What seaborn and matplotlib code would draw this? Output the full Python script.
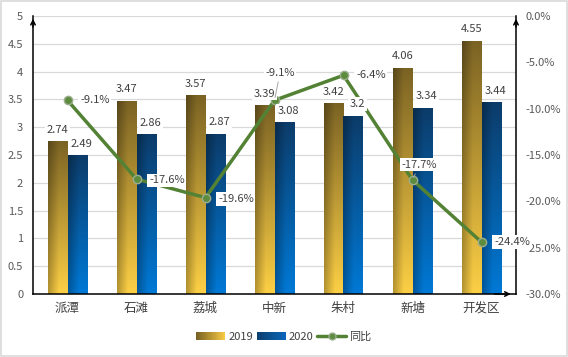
import numpy as np
import pandas as pd
import matplotlib
matplotlib.use("Agg")
import matplotlib.pyplot as plt
import seaborn as sns
from matplotlib.patches import Rectangle, Patch
from matplotlib.lines import Line2D
from matplotlib.legend_handler import HandlerBase
from matplotlib.colors import to_rgb

# data
areas = ["派潭", "石滩", "荔城", "中新", "朱村", "新塘", "开发区"]
v2019 = [2.74, 3.47, 3.57, 3.39, 3.42, 4.06, 4.55]
v2020 = [2.49, 2.86, 2.87, 3.08, 3.2, 3.34, 3.44]
yoy = [-9.1, -17.6, -19.6, -9.1, -6.4, -17.7, -24.4]
years = ["2019", "2020"]

df = pd.DataFrame({
    "区域": areas * 2,
    "值": v2019 + v2020,
    "年份": [years[0]] * len(areas) + [years[1]] * len(areas),
})

sns.set_theme(style="white")
plt.rcParams["font.family"] = ["Noto Sans CJK SC", "DejaVu Sans"]

GREEN = "#548235"
TXT = "#404040"
TICK = "#595959"
# gradient colours (top, bottom)
GOLD = (np.array(to_rgb("#7B6324")), np.array(to_rgb("#FCCF45")))
BLUE = (np.array(to_rgb("#0C3C6A")), np.array(to_rgb("#0079D6")))


def grad_img(top, bottom, nx=24, ny=80):
    t = np.linspace(0, 1, ny)[:, None, None]
    col = (1 - t) * bottom + t * top
    s = np.linspace(0, 1, nx)[None, :, None]
    shade = 0.72 + 0.28 * np.clip(s / 0.55, 0, 1)
    return np.clip(col * shade, 0, 1)


class GradHandler(HandlerBase):
    def __init__(self, left, right, n=24):
        super().__init__()
        self.left, self.right, self.n = np.array(to_rgb(left)), np.array(to_rgb(right)), n

    def create_artists(self, legend, orig_handle, xdescent, ydescent,
                       width, height, fontsize, trans):
        arts = []
        for i in range(self.n):
            c = self.left + (self.right - self.left) * i / (self.n - 1)
            arts.append(Rectangle((-xdescent + width * i / self.n, -ydescent),
                                  width / self.n * 1.08, height,
                                  facecolor=c, edgecolor="none", transform=trans))
        return arts


fig = plt.figure(figsize=(5.68, 3.57), dpi=100)
ax = fig.add_axes([33 / 568, 1 - 294 / 357, (516 - 33) / 568, (294 - 16) / 357])

sns.barplot(data=df, x="区域", y="值", hue="年份", palette=["#B8952E", "#0A5EA8"],
            width=0.56, saturation=1, legend=False, ax=ax)

# swap flat bars for gradient images
for cont, (top, bot) in zip(ax.containers, [GOLD, BLUE]):
    img = grad_img(top, bot)
    for p in cont.patches:
        x, y, w, h = p.get_x(), p.get_y(), p.get_width(), p.get_height()
        ax.imshow(img, extent=(x, x + w, y, y + h), origin="lower",
                  aspect="auto", zorder=2, interpolation="bilinear")
        p.set_visible(False)

ax.set_xlim(-0.5, len(areas) - 0.5)
ax.set_ylim(0, 5)
ax.set_yticks(np.arange(0, 5.01, 0.5))
ax.set_yticklabels([f"{v:g}" for v in np.arange(0, 5.01, 0.5)], fontsize=8, color=TICK)
ax.tick_params(axis="y", length=0, pad=7)
ax.tick_params(axis="x", length=0, pad=6, labelsize=9, labelcolor=TXT)
ax.grid(axis="y", color="#D9D9D9", lw=0.9)
ax.set_axisbelow(True)
ax.set_xlabel("")
ax.set_ylabel("")
for side in ["top", "right"]:
    ax.spines[side].set_visible(False)
for side in ["left", "bottom"]:
    ax.spines[side].set_color("black")
    ax.spines[side].set_linewidth(1.1)

ax2 = ax.twinx()
sns.lineplot(x=np.arange(len(areas)), y=yoy, ax=ax2, color=GREEN, lw=2.5,
             marker="o", markersize=6, markerfacecolor="#5E8C3E",
             markeredgecolor="#9AAE8E", markeredgewidth=1, zorder=5)
ax2.set_ylim(-30, 0)
ax2.set_xlim(-0.5, len(areas) - 0.5)
ax2.set_yticks(np.arange(-30, 0.1, 5))
ax2.set_yticklabels([f"{v:.1f}%" for v in np.arange(-30, 0.1, 5)], fontsize=8, color=TICK)
ax2.tick_params(axis="y", length=0, pad=7)
ax2.set_ylabel("")
for side in ["top", "left", "bottom"]:
    ax2.spines[side].set_visible(False)
ax2.spines["right"].set_color("black")
ax2.spines["right"].set_linewidth(1.1)

# arrow heads on the axis lines
arr = dict(arrowstyle="->", color="black", lw=1.1, mutation_scale=8)
ax2.annotate("", xy=(0, 1.0), xytext=(0, 0.95), xycoords="axes fraction", arrowprops=arr)
ax2.annotate("", xy=(1, 1.0), xytext=(1, 0.95), xycoords="axes fraction", arrowprops=arr)
ax2.annotate("", xy=(0.995, 0), xytext=(0.95, 0), xycoords="axes fraction", arrowprops=arr)

box = dict(boxstyle="square,pad=0.15", fc="white", ec="none")

# bar value labels (drawn on ax2 so they sit over the line)
for i, (a, b) in enumerate(zip(v2019, v2020)):
    ax2.annotate(f"{a:g}", xy=(i - 0.14, a), xycoords=ax.transData, xytext=(0, 5),
                 textcoords="offset points", ha="center", va="bottom",
                 fontsize=8, color=TXT, bbox=box, zorder=6)
    ax2.annotate(f"{b:g}", xy=(i + 0.14, b), xycoords=ax.transData, xytext=(3, 5),
                 textcoords="offset points", ha="center", va="bottom",
                 fontsize=8, color=TXT, bbox=box, zorder=6)

# yoy labels, offsets in points
offs = [(9, 0, "left"), (9, -1, "left"), (9, -1, "left"), (4, 20, "center"),
        (9, 0, "left"), (5, 11, "center"), (9, 0, "left")]
for i, (v, (dx, dy, ha)) in enumerate(zip(yoy, offs)):
    lead = dict(arrowstyle="-", color="#A6A6A6", lw=0.7) if ha == "center" else None
    ax2.annotate(f"{v:.1f}%", xy=(i, v), xytext=(dx, dy), textcoords="offset points",
                 ha=ha, va="center", fontsize=8, color=TXT, bbox=box, zorder=7,
                 arrowprops=lead)

handles = [Patch(), Patch(),
           Line2D([], [], color=GREEN, lw=2.5, marker="o", markersize=5,
                  markerfacecolor="#5E8C3E", markeredgecolor="#9AAE8E")]
fig.legend(handles=handles, labels=["2019", "2020", "同比"], loc="center",
           bbox_to_anchor=(0.5, 1 - 337 / 357), ncol=3, frameon=False, fontsize=8,
           handlelength=2.6, handletextpad=0.3, columnspacing=0.3,
           labelcolor=TXT,
           handler_map={handles[0]: GradHandler("#7B6324", "#F8CB45"),
                        handles[1]: GradHandler("#0C3F70", "#0A66B8")})

fig.add_artist(Rectangle((0.002, 0.003), 0.996, 0.994, transform=fig.transFigure,
                         fill=False, edgecolor="#D9D9D9", lw=1.2))

fig.savefig("out.png", dpi=100)
